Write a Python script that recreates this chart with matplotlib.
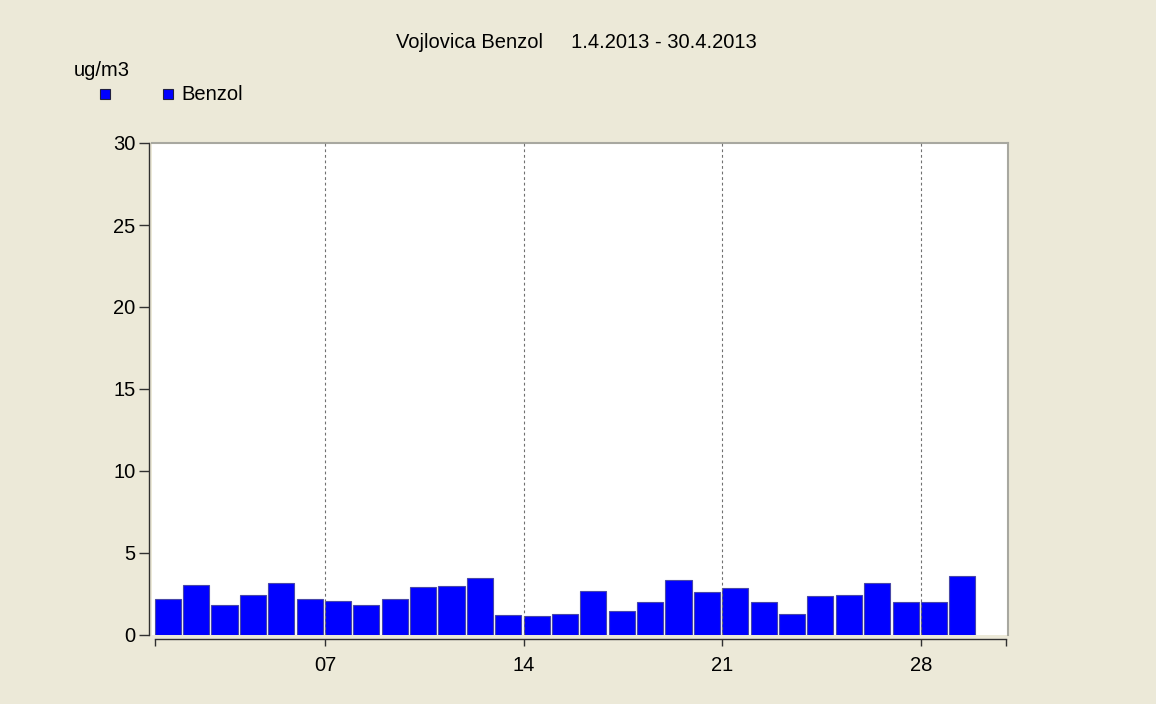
import matplotlib
matplotlib.use("Agg")
import matplotlib.pyplot as plt
from matplotlib.patches import Rectangle

plt.rcParams['font.family'] = ['Liberation Sans', 'DejaVu Sans']

days = list(range(1, 30))
benzol = [2.2, 3.05, 1.8, 2.45, 3.2, 2.2, 2.05, 1.85, 2.2, 2.95,
          3.0, 3.45, 1.25, 1.15, 1.3, 2.7, 1.45, 2.0, 3.35, 2.6,
          2.85, 2.0, 1.3, 2.4, 2.45, 3.15, 2.0, 2.0, 3.6]
xtick_pos = [1, 7, 14, 21, 28, 31]
xtick_labels = ['', '07', '14', '21', '28', '']
grid_pos = [7, 14, 21, 28]
yticks = [0, 5, 10, 15, 20, 25, 30]
title = 'Vojlovica Benzol     1.4.2013 - 30.4.2013'
unit = 'ug/m3'
series_name = 'Benzol'

W, H = 1156, 704
bg = '#ECE9D8'
fs = 14.5
fig = plt.figure(figsize=(W / 100, H / 100), dpi=100, facecolor=bg)

def fx(px):
    return px / W

def fy(py):
    return 1 - py / H

ax = fig.add_axes([fx(152), fy(635), fx(1008) - fx(152), fy(143) - fy(635)])
ax.set_facecolor('white')

ax.bar(days, benzol, width=0.92, align='edge', color='#0000FF',
       edgecolor='#4848A8', linewidth=0.8, zorder=2)

for g in grid_pos:
    ax.axvline(g, color='#707070', linewidth=0.8, linestyle=(0, (2.5, 2.5)), zorder=3)

ax.set_xlim(0.905, 31.07)
ax.set_ylim(0, 30)

ax.set_xticks(xtick_pos)
ax.set_xticklabels(xtick_labels)
ax.set_yticks(yticks)
ax.set_yticklabels([str(v) for v in yticks])

ax.spines['left'].set_position(('outward', 2.5))
ax.spines['bottom'].set_position(('outward', 3))
ax.spines['bottom'].set_bounds(1, 31)
for s in ['left', 'bottom']:
    ax.spines[s].set_color('#303030')
    ax.spines[s].set_linewidth(1.0)
for s in ['top', 'right']:
    ax.spines[s].set_color('#A8A8A0')
    ax.spines[s].set_linewidth(1.5)

ax.tick_params(axis='y', direction='out', length=7.5, width=1, color='#303030',
               labelsize=fs, pad=2, labelcolor='black')
ax.tick_params(axis='x', direction='out', length=5, width=1, color='#303030',
               labelsize=fs, pad=7, labelcolor='black')

fig.text(fx(576), fy(43), title, ha='center', va='center', fontsize=fs)
fig.text(fx(74), fy(70), unit, ha='left', va='center', fontsize=fs)

for cx in [105, 168]:
    fig.add_artist(Rectangle((fx(cx - 5), fy(99)), fx(10), fy(89) - fy(99),
                             transform=fig.transFigure, facecolor='#0000FF',
                             edgecolor='#202040', linewidth=0.8))
fig.text(fx(181), fy(95), series_name, ha='left', va='center', fontsize=fs)

fig.savefig('out.png', dpi=100, facecolor=bg)
